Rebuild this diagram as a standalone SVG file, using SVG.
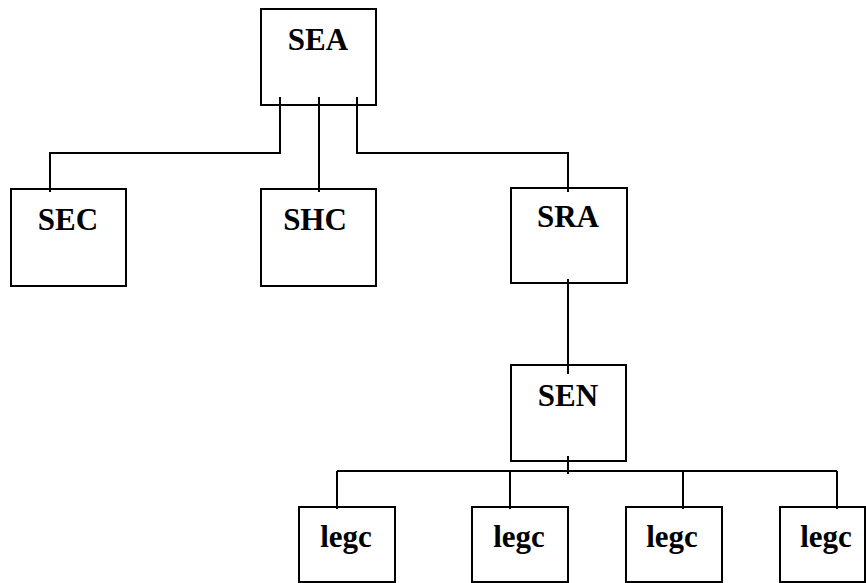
<svg xmlns="http://www.w3.org/2000/svg" width="866" height="583" viewBox="0 0 866 583">
<style>
.box{fill:#fff;stroke:#000;stroke-width:2}
.lbl{font-family:"Liberation Serif","Times New Roman",serif;font-weight:bold;font-size:31px;fill:#000;text-anchor:middle}
.conn{fill:none;stroke:#000;stroke-width:2}
</style>
<rect width="866" height="583" fill="#fff"/>
<g id="SEA"><rect class="box" x="261" y="9" width="115" height="96"/><text class="lbl" x="318" y="50">SEA</text></g>
<g id="SEC"><rect class="box" x="11" y="189" width="115" height="97"/><text class="lbl" x="68" y="230">SEC</text></g>
<g id="SHC"><rect class="box" x="261" y="189" width="115" height="97"/><text class="lbl" x="315" y="230">SHC</text></g>
<g id="SRA"><rect class="box" x="511" y="188" width="116" height="95"/><text class="lbl" x="568" y="227">SRA</text></g>
<g id="SEN"><rect class="box" x="511" y="365" width="115" height="96"/><text class="lbl" x="568" y="406">SEN</text></g>
<g id="legc1"><rect class="box" x="299" y="507" width="96" height="75"/><text class="lbl" x="346" y="547">legc</text></g>
<g id="legc2"><rect class="box" x="472" y="507" width="96" height="75"/><text class="lbl" x="519" y="547">legc</text></g>
<g id="legc3"><rect class="box" x="626" y="507" width="96" height="75"/><text class="lbl" x="672" y="547">legc</text></g>
<g id="legc4"><rect class="box" x="780" y="507" width="85" height="75"/><text class="lbl" x="826" y="547">legc</text></g>
<g id="connectors">
<polyline class="conn" points="280,97 280,153 50,153 50,192"/>
<line class="conn" x1="319" y1="97" x2="319" y2="192"/>
<polyline class="conn" points="357,97 357,153 568,153 568,192"/>
<line class="conn" x1="568" y1="279" x2="568" y2="374"/>
<line class="conn" x1="568" y1="456" x2="568" y2="474"/>
<line class="conn" x1="337" y1="471" x2="837" y2="471"/>
<line class="conn" x1="337" y1="471" x2="337" y2="509"/>
<line class="conn" x1="510" y1="471" x2="510" y2="509"/>
<line class="conn" x1="683" y1="471" x2="683" y2="509"/>
<line class="conn" x1="837" y1="471" x2="837" y2="509"/>
</g>
</svg>
